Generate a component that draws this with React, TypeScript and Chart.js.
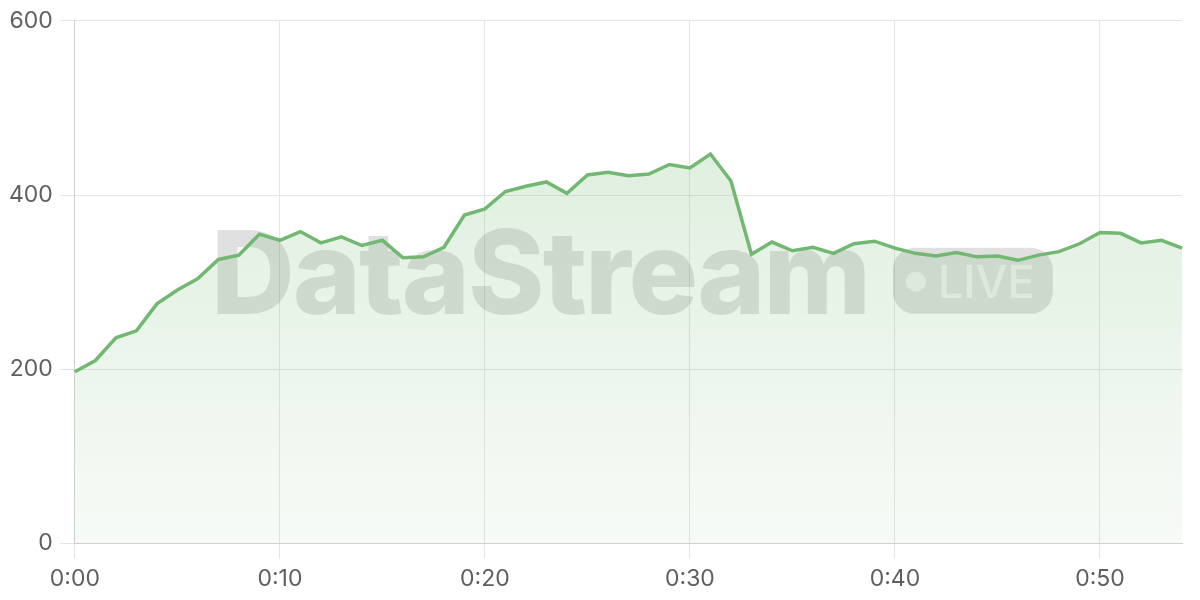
import React, { useEffect, useRef } from "react";
import { Chart, registerables } from "chart.js";

Chart.register(...registerables);

const timeLabels: string[] = [
  "0:00", "0:01", "0:02", "0:03", "0:04", "0:05", "0:06", "0:07", "0:08", "0:09",
  "0:10", "0:11", "0:12", "0:13", "0:14", "0:15", "0:16", "0:17", "0:18", "0:19",
  "0:20", "0:21", "0:22", "0:23", "0:24", "0:25", "0:26", "0:27", "0:28", "0:29",
  "0:30", "0:31", "0:32", "0:33", "0:34", "0:35", "0:36", "0:37", "0:38", "0:39",
  "0:40", "0:41", "0:42", "0:43", "0:44", "0:45", "0:46", "0:47", "0:48", "0:49",
  "0:50", "0:51", "0:52", "0:53", "0:54",
];

const streamValues: number[] = [
  197, 210, 236, 244, 275, 291, 304, 326, 331, 355,
  348, 358, 345, 352, 342, 348, 328, 329, 340, 377,
  384, 404, 410, 415, 402, 423, 426, 422, 424, 435,
  431, 447, 416, 332, 346, 336, 340, 333, 344, 347,
  339, 333, 330, 334, 329, 330, 325, 331, 335, 344,
  357, 356, 345, 348, 339,
];

const yTicks: number[] = [0, 200, 400, 600];

const watermarkPlugin = {
  id: "watermark",
  beforeDatasetsDraw(chart: any) {
    const { ctx, chartArea } = chart;
    const ox = chartArea.left;
    const oy = chartArea.top;
    ctx.save();
    ctx.fillStyle = "rgba(0,0,0,0.12)";
    ctx.font = "800 116px Inter, 'DejaVu Sans', sans-serif";
    (ctx as any).letterSpacing = "-2px";
    ctx.textBaseline = "alphabetic";
    ctx.textAlign = "left";
    ctx.fillText("DataStream", ox + 136, oy + 293);
    (ctx as any).letterSpacing = "0px";
    const px = ox + 818, py = oy + 227, pw = 160, ph = 66, r = 22;
    ctx.beginPath();
    ctx.moveTo(px + r, py);
    ctx.lineTo(px + pw - r, py);
    ctx.arcTo(px + pw, py, px + pw, py + r, r);
    ctx.lineTo(px + pw, py + ph - r);
    ctx.arcTo(px + pw, py + ph, px + pw - r, py + ph, r);
    ctx.lineTo(px + r, py + ph);
    ctx.arcTo(px, py + ph, px, py + ph - r, r);
    ctx.lineTo(px, py + r);
    ctx.arcTo(px, py, px + r, py, r);
    ctx.closePath();
    ctx.fill();
    ctx.fillStyle = "rgba(255,255,255,0.6)";
    ctx.beginPath();
    ctx.arc(ox + 841, oy + 261, 10, 0, Math.PI * 2);
    ctx.fill();
    ctx.font = "500 45px Inter, 'DejaVu Sans', sans-serif";
    ctx.fillText("LIVE", ox + 863, oy + 277);
    ctx.restore();
  },
};

export default function App() {
  const canvasRef = useRef<HTMLCanvasElement | null>(null);

  useEffect(() => {
    const canvas = canvasRef.current;
    if (!canvas) return;
    const chart = new Chart(canvas, {
      type: "line",
      data: {
        labels: timeLabels,
        datasets: [
          {
            data: streamValues,
            borderColor: "#72b872",
            borderWidth: 3.5,
            pointRadius: 0,
            tension: 0,
            fill: true,
            backgroundColor: (c: any) => {
              const area = c.chart.chartArea;
              if (!area) return "rgba(114,184,114,0.2)";
              const g = c.chart.ctx.createLinearGradient(0, area.top, 0, area.bottom);
              g.addColorStop(0, "rgba(114,184,114,0.28)");
              g.addColorStop(1, "rgba(114,184,114,0.06)");
              return g;
            },
          },
        ],
      },
      options: {
        animation: false,
        responsive: true,
        maintainAspectRatio: false,
        layout: { padding: { top: 9, right: 18, left: 2, bottom: 0 } },
        plugins: { legend: { display: false }, tooltip: { enabled: false } },
        scales: {
          x: {
            grid: {
              color: (c: any) => (c.index % 10 === 0 ? "#e4e4e4" : "transparent"),
              tickLength: 15,
            },
            border: { color: "#cfcfcf" },
            ticks: {
              autoSkip: false,
              maxRotation: 0,
              color: "#5f5f5f",
              font: { family: "Inter", size: 23 },
              padding: 7,
              callback: (_v: any, i: number) => (i % 10 === 0 ? timeLabels[i] : ""),
            },
          },
          y: {
            min: yTicks[0],
            max: yTicks[yTicks.length - 1],
            afterBuildTicks: (axis: any) => {
              axis.ticks = yTicks.map((v) => ({ value: v }));
            },
            grid: { color: "#e4e4e4", tickLength: 15 },
            border: { color: "#cfcfcf" },
            ticks: {
              color: "#5f5f5f",
              font: { family: "Inter", size: 23 },
              padding: 7,
            },
          },
        },
      },
      plugins: [watermarkPlugin],
    });
    return () => chart.destroy();
  }, []);

  return (
    <div style={{ position: "absolute", left: 0, top: 0, width: 1200, height: 600 }}>
      <canvas ref={canvasRef} />
    </div>
  );
}
